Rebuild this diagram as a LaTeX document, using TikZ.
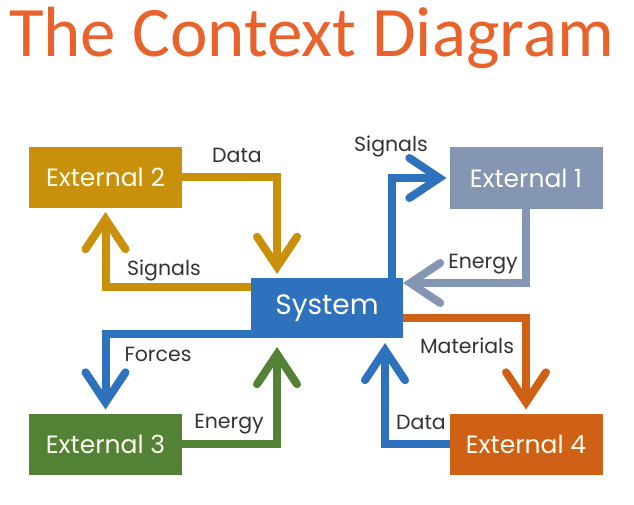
\documentclass[tikz,border=0pt]{standalone}
\usepackage{fontspec}
\setmainfont{Poppins}
\newfontfamily\titulofonte{Carlito}
\usetikzlibrary{arrows.meta}

\definecolor{ouro}{HTML}{C9900C}
\definecolor{azul}{HTML}{2E72BD}
\definecolor{cinza}{HTML}{8496B2}
\definecolor{verde}{HTML}{538135}
\definecolor{laranja}{HTML}{CF6116}
\definecolor{titulo}{HTML}{E9622B}
\definecolor{texto}{HTML}{333333}

\begin{document}
\begin{tikzpicture}[x=1pt,y=-1pt,
    caixa/.style={rectangle, minimum width=153pt, minimum height=61pt,
        inner sep=0pt, outer sep=0pt, text=white!94!yellow, font=\fontsize{25}{28}\selectfont},
    seta/.style={line width=8pt, line join=miter,
        -{Straight Barb[length=30pt,width=40pt,line cap=round]}},
    rotulo/.style={text=texto, font=\fontsize{20.5}{24}\selectfont}]
        \useasboundingbox (0,0) rectangle (634,505);

        % Titulo
        \node[text=titulo, anchor=base, font=\titulofonte\fontsize{71}{80}\selectfont]
            (tit) at (311.5,57) {The Context Diagram};

        % Caixas
        \node[caixa, fill=azul, minimum width=152pt, minimum height=60pt,
            font=\fontsize{28}{32}\selectfont] (sys) at (327,308) {System};
        \node[caixa, fill=cinza] (ext1) at (526,178) {External 1};
        \node[caixa, fill=ouro] (ext2) at (105.5,177.5) {External 2};
        \node[caixa, fill=verde] (ext3) at (105.5,444) {External 3};
        \node[caixa, fill=laranja] (ext4) at (526,444) {External 4};

        % Setas
        \draw[seta, ouro, shorten >=4pt] (ext2.east) -| ([xshift=26pt]sys.north west);
        \draw[seta, ouro, shorten >=4pt] ([yshift=21pt]sys.west) -| (ext2.south);
        \draw[seta, azul, shorten >=3pt] ([xshift=-11pt]sys.north east) |- (ext1.west);
        \draw[seta, cinza] (ext1.south) |- ([yshift=25pt]sys.east);
        \draw[seta, azul, shorten >=4pt] ([yshift=-26pt]sys.west) -| (ext3.north);
        \draw[seta, verde, shorten >=9pt] (ext3.east) -| ([xshift=26pt]sys.south west);
        \draw[seta, laranja, shorten >=4pt] ([yshift=-10pt]sys.east) -| (ext4.north);
        \draw[seta, azul, shorten >=5pt] (ext4.west) -| ([xshift=-18pt]sys.south east);

        % Rotulos
        \node[rotulo] (l1) at (237,155) {Data};
        \node[rotulo] (l2) at (164,270) {Signals};
        \node[rotulo] (l3) at (391,146) {Signals};
        \node[rotulo] (l4) at (483,264) {Energy};
        \node[rotulo] (l5) at (158,354) {Forces};
        \node[rotulo] (l6) at (229,424) {Energy};
        \node[rotulo] (l7) at (467,346) {Materials};
        \node[rotulo] (l8) at (421,422) {Data};
    \end{tikzpicture}
\end{document}
